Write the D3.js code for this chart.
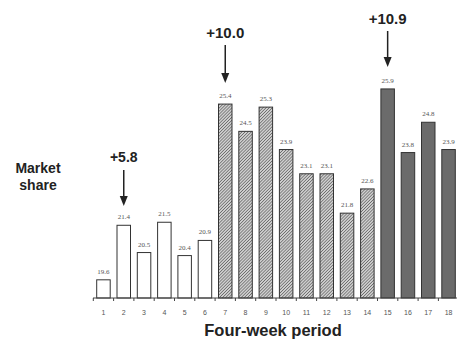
<!DOCTYPE html>
<html><head><meta charset="utf-8">
<script src="https://cdn.jsdelivr.net/npm/d3@7"></script>
<style>body{margin:0;background:#fff}svg{display:block}</style>
</head><body>
<script>
const periods = ["1","2","3","4","5","6","7","8","9","10","11","12","13","14","15","16","17","18"];
const shares = [19.6,21.4,20.5,21.5,20.4,20.9,25.4,24.5,25.3,23.9,23.1,23.1,21.8,22.6,25.9,23.8,24.8,23.9];
const phases = ["plain","plain","plain","plain","plain","plain","hatch","hatch","hatch","hatch","hatch","hatch","hatch","hatch","dark","dark","dark","dark"];
const callouts = [{period:"2", text:"+5.8"},{period:"7", text:"+10.0"},{period:"15", text:"+10.9"}];

const W=457,H=339;
const svg=d3.select("body").append("svg").attr("width",W).attr("height",H);
const defs=svg.append("defs");
const pat=defs.append("pattern").attr("id","hatch").attr("patternUnits","userSpaceOnUse")
  .attr("width",2.2).attr("height",2.2).attr("patternTransform","rotate(45)");
pat.append("rect").attr("width",2.2).attr("height",2.2).attr("fill","#cfcfcf");
pat.append("line").attr("x1",0).attr("y1",0).attr("x2",0).attr("y2",2.2).attr("stroke","#4a4a4a").attr("stroke-width",1.1);

const x=d3.scaleBand().domain(periods).range([93.3,458.7]).paddingInner(0.335).paddingOuter(0.1675);
const y=d3.scaleLinear().domain([19,26]).range([298,298-7*30.3]);

const fills={plain:"#fff",hatch:"url(#hatch)",dark:"#6b6b6b"};
svg.selectAll("rect.bar").data(periods).join("rect").attr("class","bar")
  .attr("x",d=>x(d)).attr("width",x.bandwidth())
  .attr("y",(d,i)=>y(shares[i])).attr("height",(d,i)=>y(19)-y(shares[i]))
  .attr("fill",(d,i)=>fills[phases[i]]).attr("stroke","#333").attr("stroke-width",1);

svg.selectAll("text.val").data(periods).join("text").attr("class","val")
  .attr("x",d=>x(d)+x.bandwidth()/2).attr("y",(d,i)=>y(shares[i])-6)
  .attr("text-anchor","middle").attr("font-family","Liberation Serif, serif").attr("font-size",7)
  .attr("fill","#555").text((d,i)=>shares[i].toFixed(1));

// axis
const axisG=svg.append("g").attr("transform","translate(0,298)");
axisG.append("line").attr("x1",93).attr("x2",457).attr("stroke","#444").attr("stroke-width",1);
const bounds=periods.map(d=>x(d)-x.step()*x.paddingInner()/2);
axisG.selectAll("line.tk").data(bounds).join("line").attr("class","tk")
  .attr("x1",d=>d).attr("x2",d=>d).attr("y1",0).attr("y2",3).attr("stroke","#444");
axisG.selectAll("text.tl").data(periods).join("text").attr("class","tl")
  .attr("x",d=>x(d)+x.bandwidth()/2).attr("y",17).attr("text-anchor","middle")
  .attr("font-family","Liberation Sans, Arial, sans-serif").attr("font-size",7).attr("fill","#555").text(d=>d);

// callouts
const cy={"2":[157,170,206],"7":[33,45,83],"15":[19,31,67]};
callouts.forEach(c=>{
  const cx=x(c.period)+x.bandwidth()/2;
  const [ty,a0,a1]=cy[c.period];
  svg.append("text").attr("x",cx).attr("y",ty+5).attr("text-anchor","middle")
    .attr("font-family","Liberation Sans, Arial, sans-serif").attr("font-weight","bold")
    .attr("font-size",c.text.length>4?15:14).attr("fill","#222").text(c.text);
  svg.append("line").attr("x1",cx).attr("x2",cx).attr("y1",a0).attr("y2",a1-8).attr("stroke","#222").attr("stroke-width",1.5);
  svg.append("path").attr("d",`M${cx-4},${a1-10}L${cx+4},${a1-10}L${cx},${a1}Z`).attr("fill","#222");
});

svg.append("text").attr("x",38).attr("y",173).attr("text-anchor","middle")
  .attr("font-family","Liberation Sans, Arial, sans-serif").attr("font-weight","bold").attr("font-size",14).attr("fill","#222").text("Market");
svg.append("text").attr("x",38).attr("y",190).attr("text-anchor","middle")
  .attr("font-family","Liberation Sans, Arial, sans-serif").attr("font-weight","bold").attr("font-size",14).attr("fill","#222").text("share");
svg.append("text").attr("x",273).attr("y",336).attr("text-anchor","middle")
  .attr("font-family","Liberation Sans, Arial, sans-serif").attr("font-weight","bold").attr("font-size",16.5).attr("fill","#222").text("Four-week period");
</script>
</body></html>
